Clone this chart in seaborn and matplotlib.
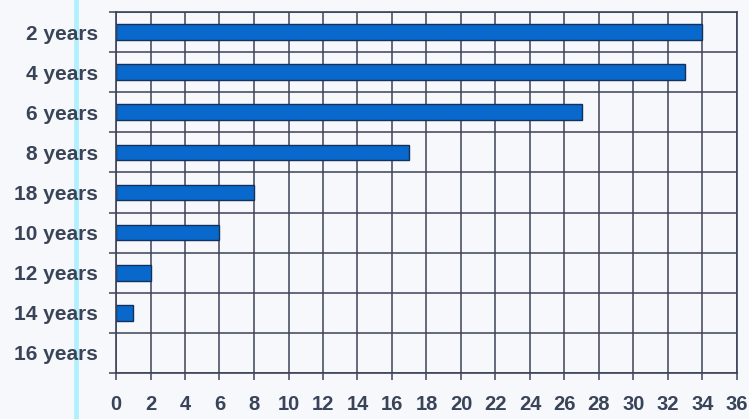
import matplotlib
matplotlib.use("Agg")
import matplotlib.pyplot as plt
from matplotlib.lines import Line2D
from matplotlib.ticker import FixedLocator
import numpy as np
import pandas as pd
import seaborn as sns

categories = ["2 years", "4 years", "6 years", "8 years", "18 years",
              "10 years", "12 years", "14 years", "16 years"]
values = [34, 33, 27, 17, 8, 6, 2, 1, 0]
x_ticks = list(range(0, 37, 2))

sns.set_style("white")
plt.rcParams["font.family"] = ["Liberation Sans", "DejaVu Sans"]

bg = "#f6f8fc"
grid_col = "#3c4258"
text_col = "#3a4458"

fig = plt.figure(figsize=(7.49, 4.19), dpi=100, facecolor=bg)
ax = fig.add_axes([116 / 749, 1 - 373 / 419, (737 - 116) / 749, (373 - 12) / 419])
ax.set_facecolor(bg)

df = pd.DataFrame({"category": categories, "value": values})
sns.barplot(data=df, x="value", y="category", orient="h", ax=ax,
            color="#0868cc", edgecolor="#15305a", linewidth=1.0,
            width=0.39, saturation=1)
# empty categories get no outline
for p in ax.patches:
    if p.get_width() == 0:
        p.set_linewidth(0)

ax.set_xlim(0, 36)
ax.set_ylim(len(categories) - 0.5, -0.5)
ax.xaxis.set_major_locator(FixedLocator(x_ticks))
ax.set_xticklabels([str(t) for t in x_ticks])
ax.yaxis.set_minor_locator(FixedLocator(np.arange(-0.5, len(categories), 1.0)))

ax.grid(True, axis="x", which="major", color=grid_col, linewidth=1.1)
ax.grid(True, axis="y", which="minor", color=grid_col, linewidth=1.1)
ax.set_axisbelow(True)

ax.tick_params(axis="x", which="major", length=5, width=1.1, color=grid_col,
               pad=11, labelsize=14.5, labelcolor=text_col, direction="out", bottom=True)
ax.tick_params(axis="y", which="major", length=0, pad=13,
               labelsize=15, labelcolor=text_col)
ax.tick_params(axis="y", which="minor", length=5, width=1.1, color=grid_col,
               direction="out", left=True)
for lab in ax.get_xticklabels() + ax.get_yticklabels():
    lab.set_fontweight("bold")

for sp in ax.spines.values():
    sp.set_visible(True)
    sp.set_color(grid_col)
    sp.set_linewidth(1.2)

ax.set_xlabel("")
ax.set_ylabel("")

# faint cyan vertical streak across the sheet
fig.add_artist(Line2D([76 / 749, 76 / 749], [0, 1], transform=fig.transFigure,
                      color="#9beeff", linewidth=3.5, alpha=0.75, zorder=0))

fig.savefig("out.png", dpi=100, facecolor=bg)
